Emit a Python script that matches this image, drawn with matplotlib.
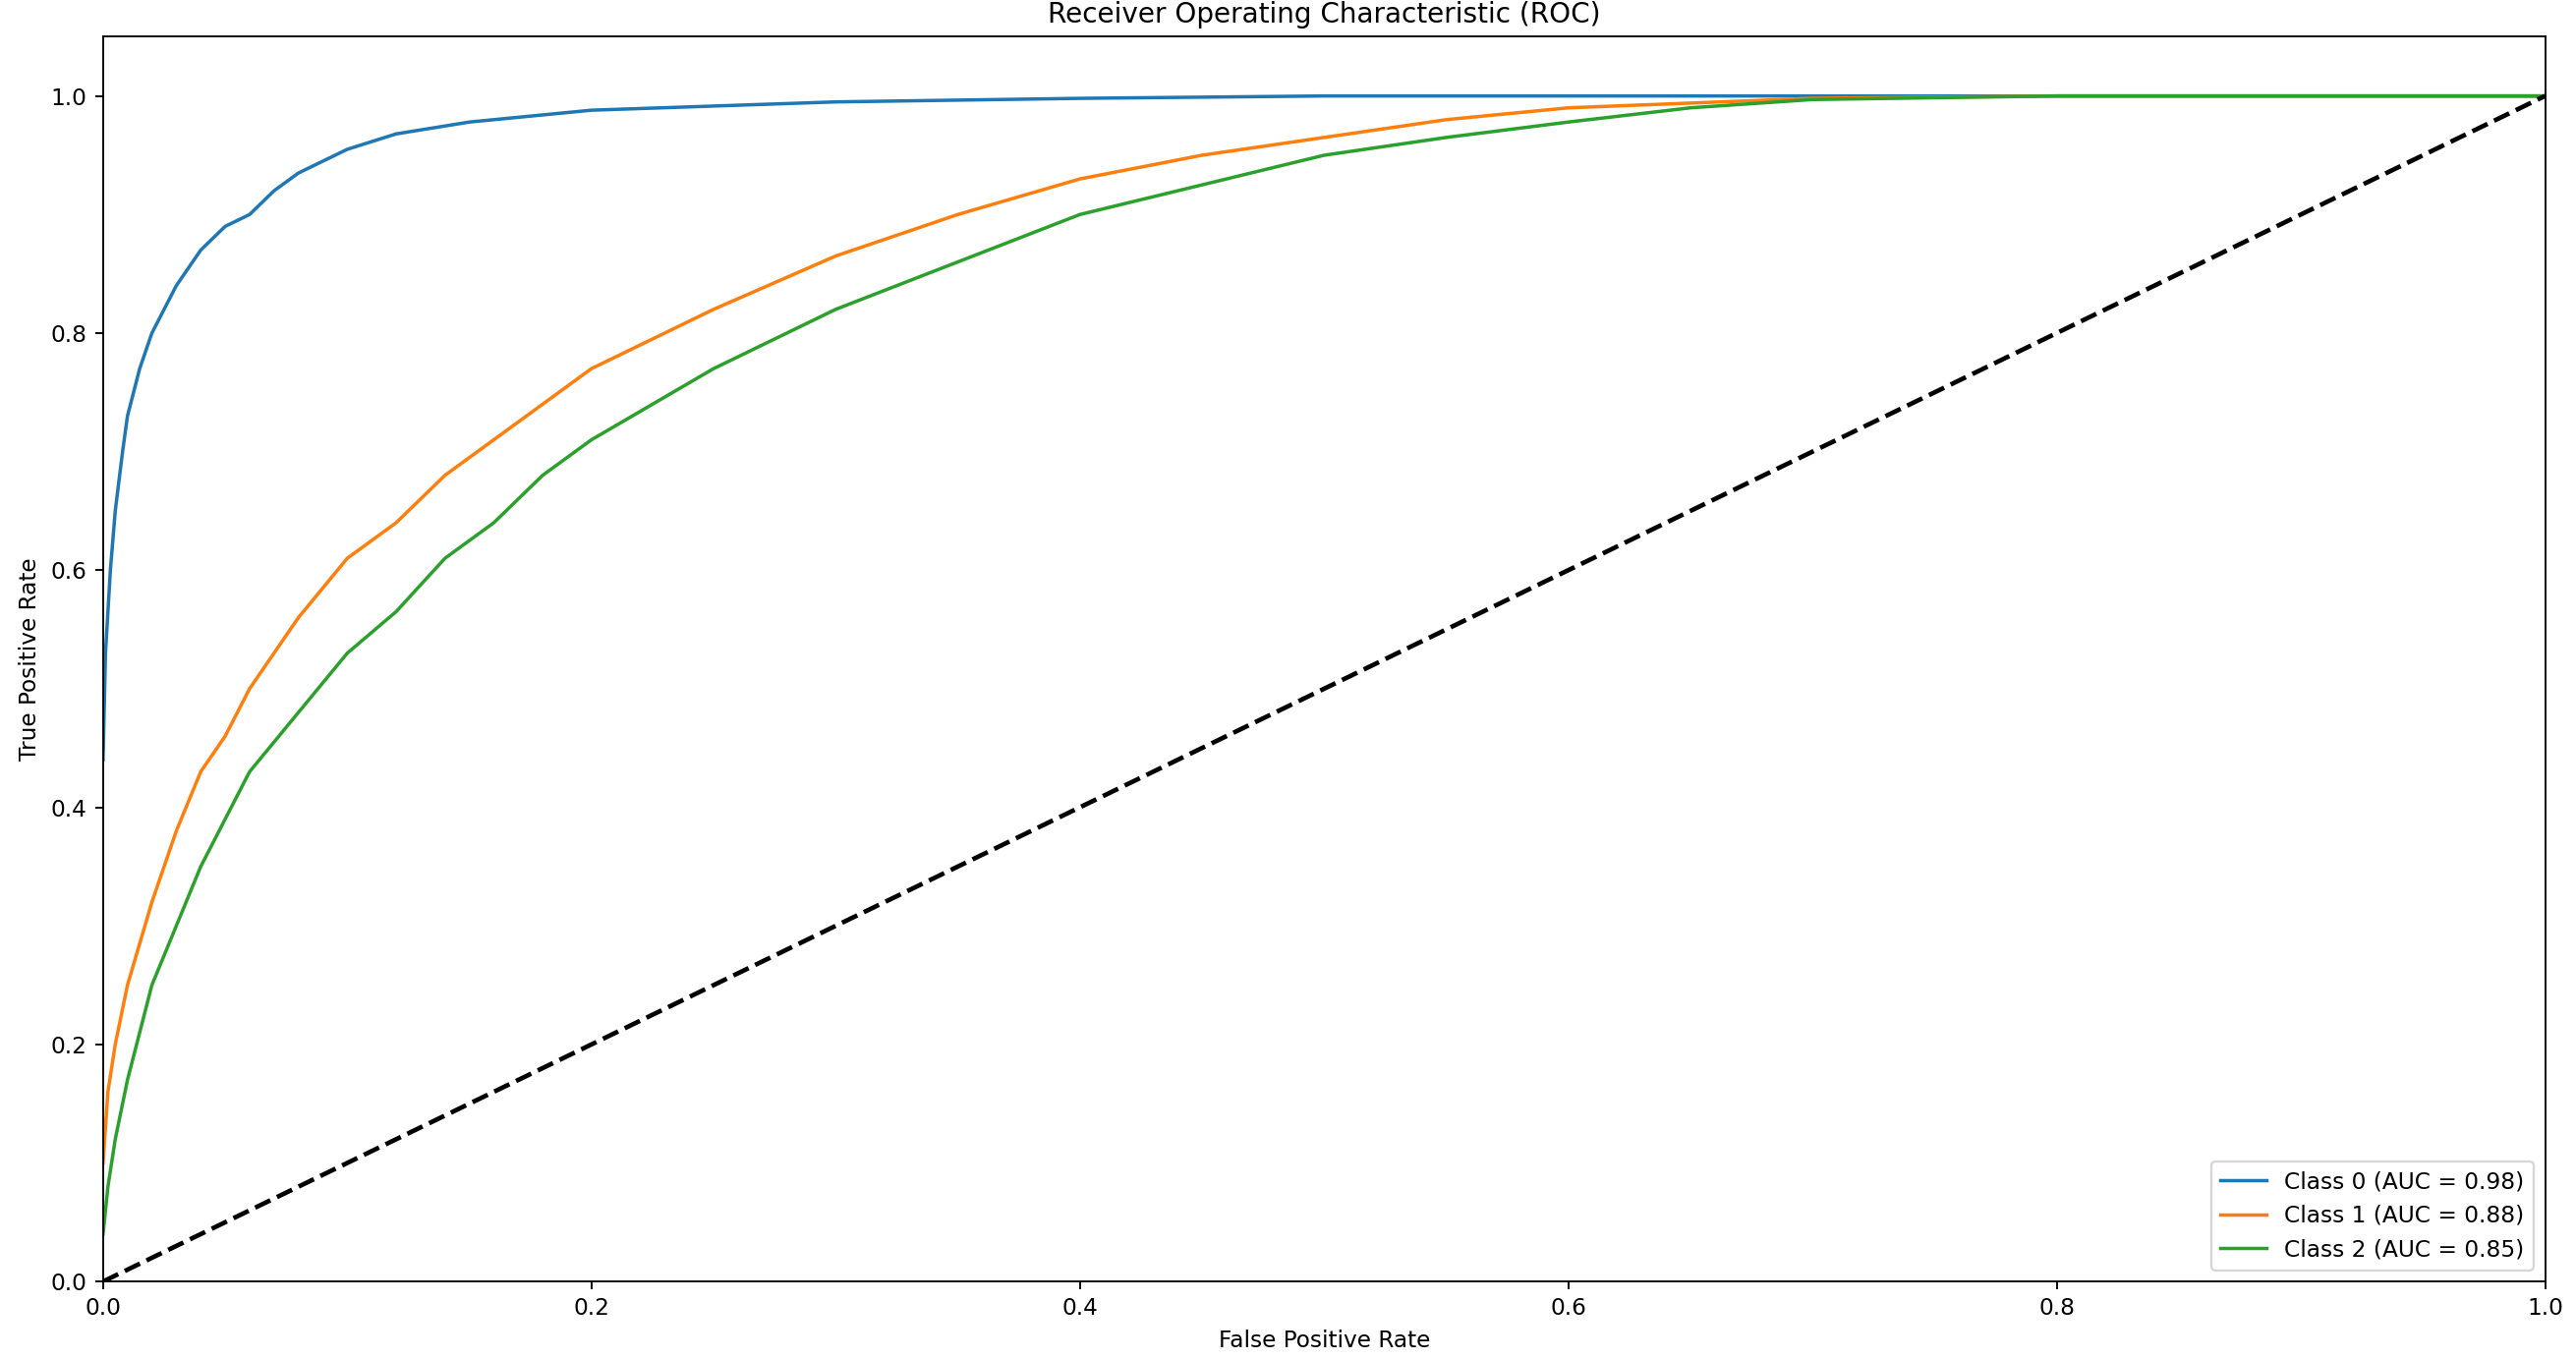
import matplotlib
matplotlib.use("Agg")
import matplotlib.pyplot as plt

# ROC points
fpr0 = [0, 0.001, 0.003, 0.005, 0.008, 0.01, 0.015, 0.02, 0.03, 0.04, 0.05, 0.06, 0.07,
        0.08, 0.1, 0.12, 0.15, 0.2, 0.3, 0.4, 0.5, 1.0]
tpr0 = [0.44, 0.53, 0.6, 0.65, 0.70, 0.73, 0.77, 0.8, 0.84, 0.87, 0.89, 0.9, 0.92,
        0.935, 0.955, 0.968, 0.978, 0.988, 0.995, 0.998, 1.0, 1.0]

fpr1 = [0, 0.002, 0.005, 0.01, 0.02, 0.03, 0.04, 0.05, 0.06, 0.08, 0.1, 0.12, 0.14, 0.16,
        0.18, 0.2, 0.25, 0.3, 0.35, 0.4, 0.45, 0.5, 0.55, 0.6, 0.7, 0.8, 1.0]
tpr1 = [0.1, 0.16, 0.2, 0.25, 0.32, 0.38, 0.43, 0.46, 0.5, 0.56, 0.61, 0.64, 0.68, 0.71,
        0.74, 0.77, 0.82, 0.865, 0.9, 0.93, 0.95, 0.965, 0.98, 0.99, 0.998, 1.0, 1.0]

fpr2 = [0, 0.002, 0.005, 0.01, 0.02, 0.03, 0.04, 0.05, 0.06, 0.08, 0.1, 0.12, 0.14, 0.16,
        0.18, 0.2, 0.25, 0.3, 0.35, 0.4, 0.45, 0.5, 0.55, 0.6, 0.65, 0.7, 0.8, 1.0]
tpr2 = [0.04, 0.08, 0.12, 0.17, 0.25, 0.3, 0.35, 0.39, 0.43, 0.48, 0.53, 0.565, 0.61, 0.64,
        0.68, 0.71, 0.77, 0.82, 0.86, 0.9, 0.925, 0.95, 0.965, 0.978, 0.99, 0.997, 1.0, 1.0]

labels = ["Class 0 (AUC = 0.98)", "Class 1 (AUC = 0.88)", "Class 2 (AUC = 0.85)"]

fig = plt.figure(figsize=(2621 / 167, 1383 / 167), dpi=167)
ax = fig.add_axes([0.040, 0.057, 0.948, 0.916])

for fpr, tpr, lab in zip([fpr0, fpr1, fpr2], [tpr0, tpr1, tpr2], labels):
    ax.plot(fpr, tpr, lw=1.5, label=lab)
ax.plot([0, 1], [0, 1], "k--", lw=2)

ax.set_xlim(0, 1)
ax.set_ylim(0, 1.05)
ax.set_xlabel("False Positive Rate")
ax.set_ylabel("True Positive Rate")
ax.set_title("Receiver Operating Characteristic (ROC)")
ax.legend(loc="lower right")

fig.savefig("out.png", dpi=167)
